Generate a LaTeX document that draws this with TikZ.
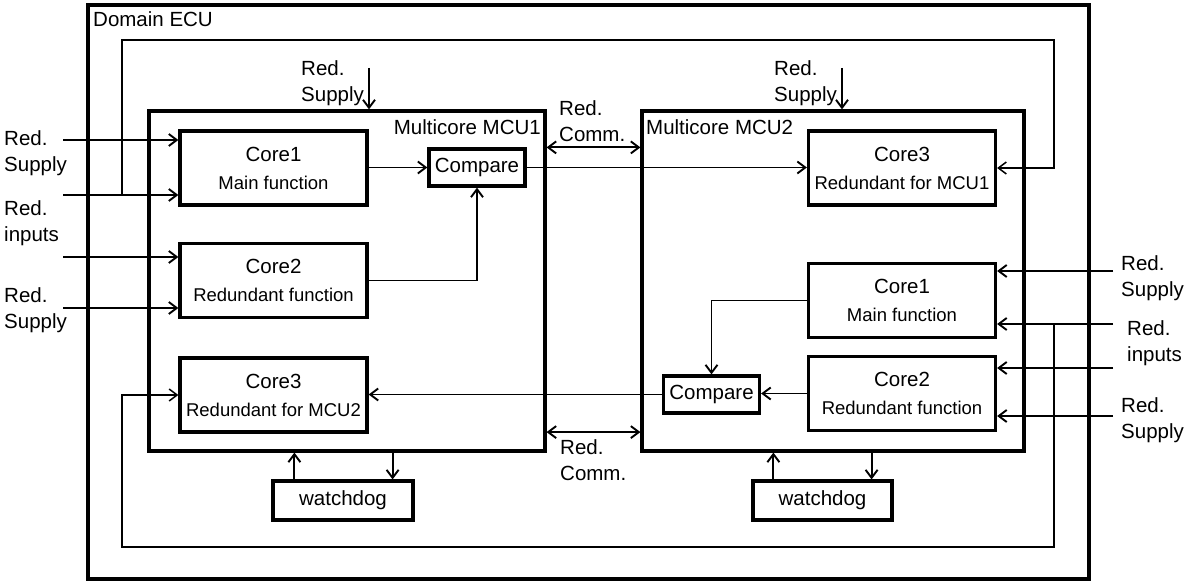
\documentclass[tikz,border=0pt]{standalone}
\usepackage{fontspec}
\setmainfont{Liberation Sans}
\usetikzlibrary{arrows.meta}
\begin{document}
\begin{tikzpicture}[x=1pt,y=-1pt,
  >={Straight Barb[length=8pt,width=12pt]},
  box/.style={draw, line width=3.2pt, inner sep=0pt},
  mcu/.style={box, minimum height=340pt},
  core/.style={box, minimum width=187pt, minimum height=74pt, align=center,
    font=\fontsize{20.5}{28}\selectfont},
  cmpbox/.style={box, minimum width=96pt, minimum height=37pt, font=\fontsize{20.5}{24}\selectfont},
  wdbox/.style={box, minimum width=140pt, minimum height=39pt, font=\fontsize{20.5}{24}\selectfont},
  lbl/.style={align=left, inner sep=0pt, font=\fontsize{20.5}{25.5}\selectfont},
  conn/.style={line width=1.9pt, ->},
  bconn/.style={line width=1.9pt, <->},
  fb/.style={line width=1.5pt},
]
\useasboundingbox (0,0) rectangle (1186,583);
\fill[white] (0,0) rectangle (1186,583);

% frames
\node[box, minimum width=1001pt, minimum height=574pt] (ecu) at (588.5,292) {};
\node[lbl, anchor=west] (ecul) at (93,19) {Domain ECU};
\node[mcu, minimum width=396pt] (mcu1) at (347,281) {};
\node[mcu, minimum width=382pt] (mcu2) at (833,281) {};
\node[lbl, anchor=east] (mcu1l) at (541,127) {Multicore MCU1};
\node[lbl, anchor=west] (mcu2l) at (646,127) {Multicore MCU2};

% MCU1 cores
\node[core] (m1c1) at (273.5,168) {Core1\\{\fontsize{18.5}{28}\selectfont Main function}};
\node[core] (m1c2) at (273.5,280.5) {Core2\\{\fontsize{18.5}{28}\selectfont Redundant function}};
\node[core] (m1c3) at (273.5,395) {Core3\\{\fontsize{18.5}{28}\selectfont Redundant for MCU2}};
\node[cmpbox] (m1cmp) at (477,167.5) {Compare};
\node[wdbox] (wd1) at (343,500.5) {watchdog};

% MCU2 cores
\node[core] (m2c3) at (902,168) {Core3\\{\fontsize{18.5}{28}\selectfont Redundant for MCU1}};
\node[core] (m2c1) at (902,300.5) {Core1\\{\fontsize{18.5}{28}\selectfont Main function}};
\node[core] (m2c2) at (902,393.5) {Core2\\{\fontsize{18.5}{28}\selectfont Redundant function}};
\node[cmpbox] (m2cmp) at (711.5,394.5) {Compare};
\node[wdbox, minimum width=139pt] (wd2) at (822.5,500.5) {watchdog};

% outside labels
\node[lbl, anchor=west] (lS1) at (4,153) {Red.\\Supply};
\node[lbl, anchor=west] (lI1) at (4,223) {Red.\\inputs};
\node[lbl, anchor=west] (lS2) at (4,310) {Red.\\Supply};
\node[lbl, anchor=west] (tS1) at (301,83) {Red.\\Supply};
\node[lbl, anchor=west] (tS2) at (774,83) {Red.\\Supply};
\node[lbl, anchor=west] (cT) at (559,121) {Red.\\Comm.};
\node[lbl, anchor=west] (cB) at (560,460) {Red.\\Comm.};
\node[lbl, anchor=west] (rS1) at (1121,278) {Red.\\Supply};
\node[lbl, anchor=west] (rI1) at (1127,343) {Red.\\inputs};
\node[lbl, anchor=west] (rS2) at (1121,420) {Red.\\Supply};

% free ends
\coordinate (inA) at (63,140);
\coordinate (inB) at (63,195);
\coordinate (inC) at (63,257);
\coordinate (inD) at (63,308);
\coordinate (inE) at (1113,271);
\coordinate (inF) at (1113,324);
\coordinate (inG) at (1113,368);
\coordinate (inH) at (1113,416);
\coordinate (sup1) at (369,68);
\coordinate (sup2) at (842,68);
\coordinate (fbA) at (122,195);
\coordinate (rt) at (1054,40);
\coordinate (fbB) at (1054,324);
\coordinate (lb) at (122,547);

% feedback loops
\draw[fb, ->] (fbA) |- (rt) |- (m2c3.east);
\draw[fb, ->] (fbB) |- (lb) |- (m1c3.west);

% inputs
\draw[conn] (inA) -- (inA -| m1c1.west);
\draw[conn] (inB) -- (inB -| m1c1.west);
\draw[conn] (inC) -- (inC -| m1c2.west);
\draw[conn] (inD) -- (inD -| m1c2.west);
\draw[conn] (inE) -- (inE -| m2c1.east);
\draw[conn] (inF) -- (inF -| m2c1.east);
\draw[conn] (inG) -- (inG -| m2c2.east);
\draw[conn] (inH) -- (inH -| m2c2.east);
\draw[conn] (sup1) -- (sup1 |- mcu1.north);
\draw[conn] (sup2) -- (sup2 |- mcu2.north);

% communication
\draw[bconn] (m1cmp.north -| mcu1.east) -- (m1cmp.north -| mcu2.west);
\draw[bconn] (m2c2.south -| mcu1.east) -- (m2c2.south -| mcu2.west);

% internal MCU1
\draw[conn] (m1c1.east |- m1cmp.west) -- (m1cmp.west);
\draw[conn] (m1c2.east) -| (m1cmp.south);
\draw[conn] (m1cmp.east) -- (m1cmp.east -| m2c3.west);
% internal MCU2
\draw[conn] (m2c1.west) -| (m2cmp.north);
\draw[conn] (m2c2.west) -- (m2c2.west -| m2cmp.east);
\draw[conn] (m2cmp.west) -- (m2cmp.west -| m1c3.east);

% watchdogs
\draw[conn] ([xshift=23pt]wd1.north west) -- ([xshift=23pt]wd1.north west |- mcu1.south);
\draw[conn] ([xshift=-22pt]wd1.north east |- mcu1.south) -- ([xshift=-22pt]wd1.north east);
\draw[conn] ([xshift=22pt]wd2.north west) -- ([xshift=22pt]wd2.north west |- mcu2.south);
\draw[conn] ([xshift=-22pt]wd2.north east |- mcu2.south) -- ([xshift=-22pt]wd2.north east);
\end{tikzpicture}
\end{document}
